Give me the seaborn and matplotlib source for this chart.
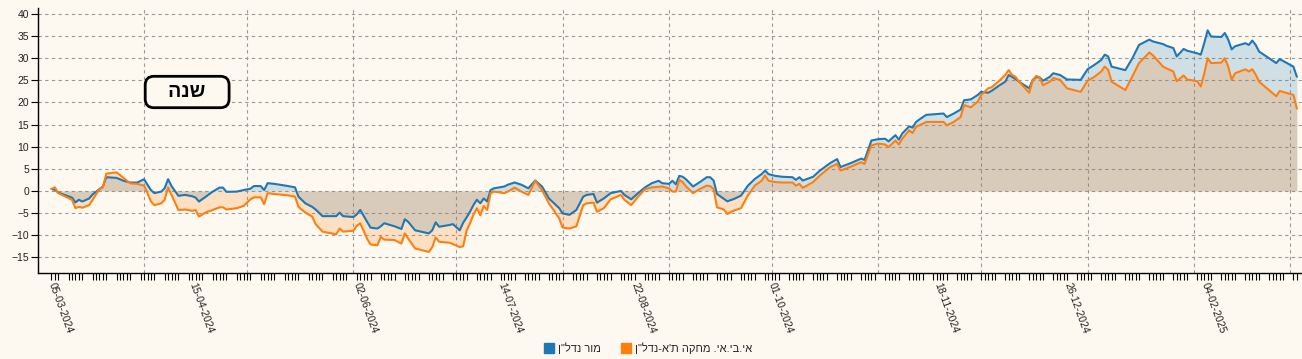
import pandas as pd
import matplotlib
matplotlib.use("Agg")
import matplotlib.pyplot as plt
import matplotlib.dates as mdates
from matplotlib.lines import Line2D
import seaborn as sns

# series names (logical Hebrew order) and colours
series_names = ['מור נדל"ן', "אי.בי.אי. מחקה ת'א-נדל\"ן"]
series_colors = ["#1f77b4", "#ff7f0e"]
period_label = "שנה"

# values (% change)
dates = [
    "2024-03-05", "2024-03-06", "2024-03-07", "2024-03-11", "2024-03-12", "2024-03-13", "2024-03-14", "2024-03-16",
    "2024-03-17", "2024-03-19", "2024-03-20", "2024-03-21", "2024-03-24", "2024-03-26", "2024-03-28", "2024-03-30",
    "2024-04-01", "2024-04-02", "2024-04-03", "2024-04-04", "2024-04-06", "2024-04-07", "2024-04-08", "2024-04-09",
    "2024-04-11", "2024-04-13", "2024-04-15", "2024-04-16", "2024-04-17", "2024-04-19", "2024-04-21", "2024-04-23",
    "2024-04-24", "2024-04-25", "2024-04-28", "2024-04-30", "2024-05-02", "2024-05-03", "2024-05-05", "2024-05-06",
    "2024-05-07", "2024-05-09", "2024-05-13", "2024-05-15", "2024-05-16", "2024-05-18", "2024-05-20", "2024-05-21",
    "2024-05-23", "2024-05-27", "2024-05-28", "2024-05-29", "2024-06-01", "2024-06-02", "2024-06-03", "2024-06-05",
    "2024-06-06", "2024-06-08", "2024-06-09", "2024-06-10", "2024-06-13", "2024-06-15", "2024-06-16", "2024-06-17",
    "2024-06-19", "2024-06-23", "2024-06-24", "2024-06-25", "2024-06-26", "2024-06-29", "2024-06-30", "2024-07-02",
    "2024-07-03", "2024-07-04", "2024-07-05", "2024-07-06", "2024-07-07", "2024-07-08", "2024-07-09", "2024-07-10",
    "2024-07-11", "2024-07-12", "2024-07-15", "2024-07-16", "2024-07-18", "2024-07-20", "2024-07-22", "2024-07-24",
    "2024-07-26", "2024-07-28", "2024-07-31", "2024-08-01", "2024-08-03", "2024-08-05", "2024-08-07", "2024-08-08",
    "2024-08-10", "2024-08-11", "2024-08-13", "2024-08-15", "2024-08-18", "2024-08-19", "2024-08-21", "2024-08-23",
    "2024-08-25", "2024-08-27", "2024-08-29", "2024-08-30", "2024-09-01", "2024-09-02", "2024-09-03", "2024-09-04",
    "2024-09-05", "2024-09-06", "2024-09-08", "2024-09-10", "2024-09-12", "2024-09-13", "2024-09-14", "2024-09-15",
    "2024-09-17", "2024-09-18", "2024-09-20", "2024-09-22", "2024-09-24", "2024-09-26", "2024-09-28", "2024-09-29",
    "2024-09-30", "2024-10-02", "2024-10-04", "2024-10-07", "2024-10-08", "2024-10-09", "2024-10-10", "2024-10-13",
    "2024-10-15", "2024-10-18", "2024-10-20", "2024-10-21", "2024-10-24", "2024-10-27", "2024-10-28", "2024-10-30",
    "2024-11-01", "2024-11-03", "2024-11-04", "2024-11-06", "2024-11-07", "2024-11-08", "2024-11-10", "2024-11-11",
    "2024-11-12", "2024-11-14", "2024-11-15", "2024-11-20", "2024-11-21", "2024-11-23", "2024-11-25", "2024-11-26",
    "2024-11-28", "2024-11-30", "2024-12-01", "2024-12-03", "2024-12-04", "2024-12-06", "2024-12-08", "2024-12-09",
    "2024-12-10", "2024-12-11", "2024-12-12", "2024-12-15", "2024-12-16", "2024-12-17", "2024-12-18", "2024-12-19",
    "2024-12-21", "2024-12-22", "2024-12-24", "2024-12-26", "2024-12-30", "2025-01-01", "2025-01-03", "2025-01-05",
    "2025-01-06", "2025-01-07", "2025-01-08", "2025-01-12", "2025-01-14", "2025-01-16", "2025-01-19", "2025-01-20",
    "2025-01-23", "2025-01-24", "2025-01-26", "2025-01-27", "2025-01-29", "2025-01-30", "2025-02-02", "2025-02-03",
    "2025-02-04", "2025-02-05", "2025-02-06", "2025-02-09", "2025-02-10", "2025-02-11", "2025-02-12", "2025-02-13",
    "2025-02-16", "2025-02-17", "2025-02-18", "2025-02-19", "2025-02-20", "2025-02-25", "2025-02-26", "2025-03-02",
    "2025-03-03",
]
mor = [
    0.45, 0.3, -0.4, -1.5, -2.6, -2.0, -2.4, -1.7,
    -0.8, 0.4, 1.0, 3.1, 2.95, 2.3, 1.9, 1.9,
    2.65, 1.4, 0.2, -0.5, -0.15, 0.6, 2.65, 1.1,
    -1.1, -0.9, -1.2, -1.5, -2.4, -1.3, -0.15, 0.75,
    0.75, -0.2, -0.15, 0.2, 0.5, 1.1, 1.1, 0.2,
    1.75, 1.6, 1.1, 0.8, -1.3, -2.8, -3.6, -4.2,
    -5.7, -5.7, -4.9, -5.7, -5.9, -5.3, -4.3, -7.0,
    -8.3, -8.5, -8.0, -7.3, -8.0, -8.6, -6.4, -7.0,
    -8.9, -9.6, -8.9, -7.1, -8.1, -7.7, -7.5, -8.9,
    -7.2, -6.0, -4.7, -3.2, -2.0, -2.8, -1.7, -2.4,
    0.2, 0.6, 1.0, 1.4, 1.9, 1.4, 0.6, 2.35,
    1.0, -1.7, -3.9, -5.1, -5.4, -4.3, -1.3, -0.9,
    -0.7, -2.65, -1.7, -0.5, 0.0, -0.9, -1.9, -0.5,
    0.8, 1.75, 2.3, 1.75, 1.6, 2.3, 1.5, 3.4,
    3.2, 2.6, 1.0, 2.0, 3.1, 3.1, 2.35, -0.7,
    -1.8, -2.35, -1.8, -1.05, 1.2, 2.7, 3.8, 4.6,
    3.8, 3.4, 3.2, 3.1, 2.5, 3.1, 2.35, 3.2,
    4.6, 6.3, 7.2, 5.4, 6.3, 7.3, 7.0, 11.4,
    11.7, 11.8, 11.2, 12.6, 11.6, 13.0, 14.6, 14.3,
    15.6, 16.7, 17.2, 17.5, 16.7, 17.5, 18.4, 20.5,
    20.7, 21.7, 22.4, 22.2, 22.6, 23.7, 24.7, 26.2,
    25.8, 25.3, 24.7, 23.2, 25.1, 25.7, 25.7, 24.9,
    25.8, 26.6, 26.2, 25.2, 25.1, 27.5, 28.5, 29.6,
    30.8, 30.4, 28.1, 27.3, 29.9, 33.0, 34.2, 33.8,
    33.2, 32.8, 32.3, 30.4, 32.1, 31.7, 31.1, 30.8,
    33.4, 36.3, 34.9, 34.8, 35.7, 34.2, 32.0, 32.7,
    33.4, 33.0, 34.0, 33.0, 31.5, 28.9, 29.8, 28.1,
    25.8,
]
ibi = [
    0.45, 0.8, -0.5, -2.0, -3.9, -3.6, -3.8, -3.2,
    -2.0, 0.45, 0.8, 3.9, 4.2, 2.95, 1.7, 1.6,
    1.2, -0.5, -2.4, -3.2, -2.8, -2.0, 0.8, -0.9,
    -4.3, -4.2, -4.5, -4.3, -5.8, -4.85, -4.3, -3.7,
    -3.7, -4.2, -3.9, -3.4, -1.9, -1.45, -1.45, -3.0,
    -0.5, -0.7, -1.0, -1.3, -3.6, -4.9, -5.8, -7.5,
    -9.2, -9.8, -8.5, -9.2, -9.0, -7.9, -7.3, -10.8,
    -12.1, -12.3, -10.4, -11.0, -11.1, -11.9, -9.6, -10.8,
    -13.0, -13.8, -12.7, -10.5, -11.5, -11.7, -12.0, -12.7,
    -12.5, -9.0, -7.3, -5.4, -3.9, -5.5, -3.4, -4.3,
    -0.5, -0.15, -0.5, -0.15, 0.75, -0.15, -0.9, 2.3,
    0.2, -2.8, -6.2, -8.3, -8.5, -8.0, -3.2, -2.8,
    -2.65, -4.7, -3.9, -1.9, -0.9, -2.0, -3.2, -1.3,
    0.4, 0.8, 0.95, 1.0, 0.6, -0.15, -0.15, 2.5,
    2.0, 1.0, -0.5, 0.45, 1.2, 1.1, 0.45, -3.7,
    -4.2, -5.2, -4.4, -3.9, -1.0, 1.2, 2.3, 3.5,
    2.3, 2.0, 1.9, 1.9, 1.2, 1.6, 0.7, 2.0,
    3.5, 5.4, 6.1, 4.6, 5.5, 6.5, 6.1, 10.3,
    10.7, 10.5, 9.9, 11.4, 10.5, 11.8, 13.7, 13.1,
    14.5, 15.2, 15.6, 15.6, 14.85, 15.6, 16.7, 19.4,
    18.9, 20.2, 21.7, 23.2, 23.4, 24.7, 26.2, 27.3,
    26.2, 25.8, 24.7, 22.2, 24.9, 26.0, 25.7, 23.9,
    24.7, 25.5, 25.1, 23.2, 22.4, 24.9, 25.8, 27.0,
    28.1, 27.4, 24.7, 22.8, 25.8, 28.9, 31.3, 30.7,
    28.1, 27.7, 27.0, 24.8, 26.1, 25.2, 24.8, 23.6,
    26.5, 30.0, 28.9, 29.0, 30.0, 28.1, 25.1, 26.6,
    27.5, 27.0, 27.5, 26.3, 24.7, 21.4, 22.6, 21.7,
    18.6,
]

# labelled dates on the x axis, y ticks
label_dates = ["2024-03-05", "2024-04-15", "2024-06-02", "2024-07-14", "2024-08-22",
               "2024-10-01", "2024-11-18", "2024-12-26", "2025-02-04"]
y_ticks = list(range(-15, 41, 5))


def rtl(s):
    # matplotlib has no bidi support, so flip Hebrew strings for display
    return s[::-1]


bg = "#fdf9f0"
grid_color = "#9a9a9a"

sns.set_style("ticks")
plt.rcParams["font.family"] = ["Liberation Sans", "DejaVu Sans"]

df = pd.DataFrame({"date": pd.to_datetime(dates), series_names[0]: mor, series_names[1]: ibi})
long_df = df.melt(id_vars="date", var_name="series", value_name="value")

fig = plt.figure(figsize=(13.02, 3.59), dpi=100, facecolor=bg)
ax = fig.add_axes([38 / 1302, 1 - 273 / 359, 1 - 38 / 1302, (273 - 8) / 359])
ax.set_facecolor(bg)

# filled areas down to zero
for name, c in zip(series_names, series_colors):
    ax.fill_between(df["date"], 0, df[name], color=c, alpha=0.2, lw=0, zorder=1)

sns.lineplot(data=long_df, x="date", y="value", hue="series", palette=series_colors,
             linewidth=1.5, legend=False, ax=ax, zorder=3)

# axes limits and ticks
ax.set_xlim(pd.Timestamp("2024-03-01 02:00"), pd.Timestamp("2025-03-04 12:00"))
ax.set_ylim(-18.55, 41.35)
ax.set_yticks(y_ticks)
ax.set_xticks(pd.to_datetime(label_dates))
trading_days = pd.bdate_range("2024-03-05", "2025-03-03", freq="C", weekmask="Sun Mon Tue Wed Thu")
ax.set_xticks(trading_days, minor=True)
ax.xaxis.set_major_formatter(mdates.DateFormatter("%d-%m-%Y"))
ax.tick_params(axis="both", which="both", length=5, width=0.8, color="black", direction="out",
               labelsize=7.5, labelcolor="#222222")
ax.tick_params(axis="y", pad=1.5)
ax.tick_params(axis="x", pad=2)
plt.setp(ax.get_xticklabels(), rotation=-70, ha="left", va="center", rotation_mode="anchor")
ax.set_xlabel("")
ax.set_ylabel("")

# grid: dashed horizontals at y ticks, dashed verticals at month starts
ax.grid(False)
ax.yaxis.grid(True, linestyle=(0, (3, 3)), color=grid_color, linewidth=0.8)
for d in pd.date_range("2024-04-01", "2025-03-01", freq="MS"):
    ax.axvline(d, linestyle=(0, (3, 3)), color=grid_color, linewidth=0.8, zorder=0.5)
ax.set_axisbelow(True)

sns.despine(ax=ax)
for side in ["left", "bottom"]:
    ax.spines[side].set_color("black")
    ax.spines[side].set_linewidth(1.0)

# period badge
ax.text(0.118, 0.683, "   " + rtl(period_label) + "   ", transform=ax.transAxes,
        ha="center", va="center", fontsize=14, fontweight="bold", color="black", zorder=5,
        bbox=dict(boxstyle="round,pad=0.37,rounding_size=0.45", fc=bg, ec="black", lw=2))

# legend
handles = [Line2D([], [], marker="s", linestyle="none", color=c, markersize=7) for c in series_colors]
fig.legend(handles, [rtl(n) for n in series_names], loc="center",
           bbox_to_anchor=(648 / 1302, 1 - 348 / 359), ncol=2, frameon=False, fontsize=8,
           handletextpad=0.3, columnspacing=1.8, handlelength=1)

fig.savefig("out.png", dpi=100, facecolor=bg)
